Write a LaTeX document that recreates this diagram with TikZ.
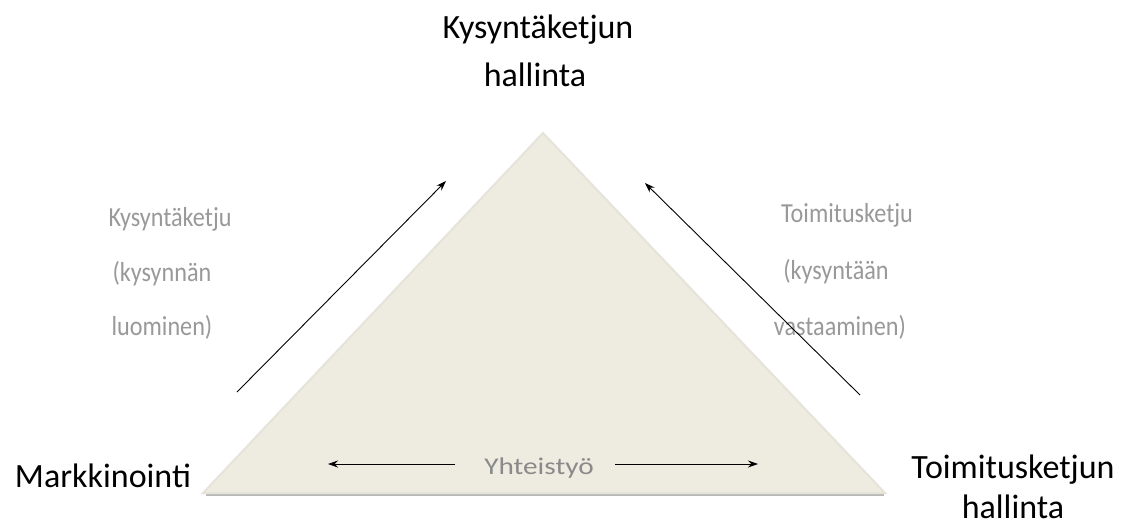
\documentclass[tikz,border=0pt]{standalone}
\usepackage{fontspec}
\setmainfont{Carlito}
\usetikzlibrary{arrows.meta}
\definecolor{tri}{HTML}{EEECE1}
\definecolor{triedge}{HTML}{E6E4DA}
\definecolor{lbl}{HTML}{999999}
\definecolor{ylbl}{HTML}{8A8A8A}
\tikzset{
  big/.style={font=\fontsize{34}{40}\selectfont, text=black, anchor=base, inner sep=0pt},
  side/.style={font=\fontsize{27.5}{32}\selectfont, text=lbl, anchor=base, inner sep=0pt, xscale=0.88},
  arr/.style={-{Stealth[length=10pt,width=7pt]}, line width=0.9pt, black},
}
\begin{document}
\begin{tikzpicture}[x=1pt,y=-1pt]
\useasboundingbox[fill=white] (0,0) rectangle (1122,525);
% shadow
\draw[line width=2.5pt, gray!55] (206,495) -- (884,495);
% triangle
\coordinate (apex) at (543,133);
\coordinate (bl) at (203,493);
\coordinate (br) at (885,493);
\fill[tri, draw=triedge, line width=2pt] (apex) -- (br) -- (bl) -- cycle;
% top labels
\node[big] (top1) at (538,38) {Kysyntäketjun};
\node[big] (top2) at (535,86) {hallinta};
\node[big] (mark) at (103,487) {Markkinointi};
\node[big] (toim1) at (1013,478) {Toimitusketjun};
\node[big] (toim2) at (1013,518) {hallinta};
% left side labels
\node[side] (l1) at (170,226) {Kysyntäketju};
\node[side] (l2) at (162,281) {(kysynnän};
\node[side] (l3) at (162,335) {luominen)};
% right side labels
\node[side] (r1) at (847,222) {Toimitusketju};
\node[side] (r2) at (836,279) {(kysyntään};
\node[side] (r3) at (840,335) {vastaaminen)};
% bottom label
\node[font=\fontsize{24}{28}\selectfont, text=ylbl, anchor=base, inner sep=0pt, xscale=1.22] (yht) at (539,474) {Yhteistyö};
% arrows
\coordinate (la0) at (237,392);
\coordinate (la1) at (446,181);
\coordinate (ra0) at (860,395);
\coordinate (ra1) at (645,183);
\coordinate (bl0) at (455,464);
\coordinate (bl1) at (328,464);
\coordinate (br0) at (615,464);
\coordinate (br1) at (758,464);
\draw[arr] (la0) -- (la1);
\draw[arr] (ra0) -- (ra1);
\draw[arr] (bl0) -- (bl1);
\draw[arr] (br0) -- (br1);
\end{tikzpicture}
\end{document}
